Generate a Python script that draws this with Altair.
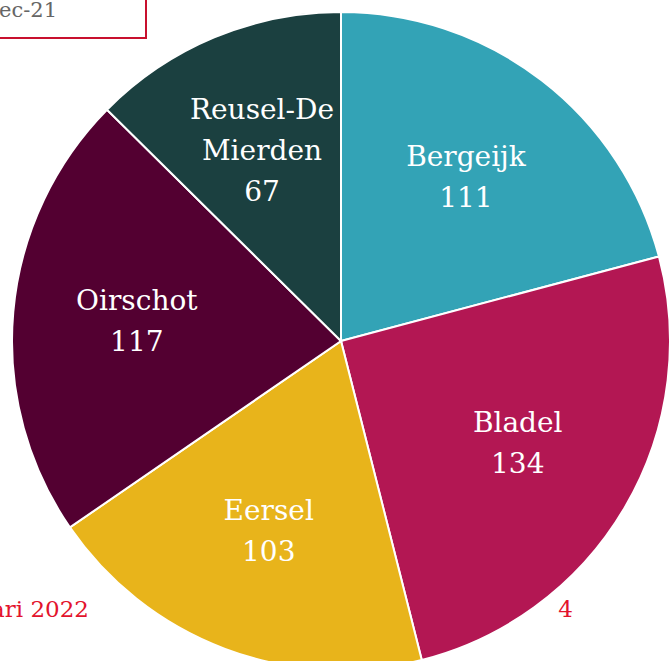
import altair as alt
import pandas as pd

names = ["Bergeijk", "Bladel", "Eersel", "Oirschot", "Reusel-De Mierden"]
label_lines = ["Bergeijk", "Bladel", "Eersel", "Oirschot", "Reusel-De\nMierden"]
values = [111, 134, 103, 117, 67]
colors = ["#33A3B6", "#B31753", "#E8B41B", "#530031", "#1B4040"]

df = pd.DataFrame({
    "gemeente": names,
    "label": [f"{l}\n{v}" for l, v in zip(label_lines, values)],
    "regels": [l.count("\n") + 2 for l in label_lines],
    "aantal": values,
    "volgorde": list(range(len(names))),
})

CX, CY, R = 341, 341, 329
LH = 41
theta_scale = alt.Scale(domain=[0, 1], range=[0, 6.283185307])

base = alt.Chart(df).transform_stack(
    stack="aantal", groupby=[], as_=["s0", "s1"], sort=[alt.SortField("volgorde")]
).transform_joinaggregate(
    totaal="sum(aantal)"
).transform_calculate(
    f0="datum.s0 / datum.totaal",
    f1="datum.s1 / datum.totaal",
    mid="(datum.s0 + datum.s1) / 2 / datum.totaal",
)

pie = base.mark_arc(outerRadius=R, stroke="white", strokeWidth=2).encode(
    theta=alt.Theta("f0:Q", scale=theta_scale),
    theta2="f1:Q",
    x=alt.value(CX), y=alt.value(CY),
    color=alt.Color("gemeente:N", scale=alt.Scale(domain=names, range=colors), legend=None),
)

def label_layer(n):
    return base.transform_filter(f"datum.regels == {n}").mark_text(
        radius=205, font="DejaVu Serif", fontSize=28, color="white",
        lineBreak="\n", lineHeight=LH, align="center", baseline="middle",
        dy=-(n - 1) * LH / 2,
    ).encode(
        theta=alt.Theta("mid:Q", scale=theta_scale),
        x=alt.value(CX), y=alt.value(CY), text="label:N",
    )

# background annotations partly hidden behind the pie
box = alt.Chart(pd.DataFrame({"a": [0]})).mark_rect(
    fill="white", stroke="#C8102E", strokeWidth=2
).encode(x=alt.value(-10), x2=alt.value(146), y=alt.value(-10), y2=alt.value(38))

box_text = alt.Chart(pd.DataFrame({"t": ["Dec-21"]})).mark_text(
    font="DejaVu Serif", fontSize=21, color="#666666", align="right", baseline="alphabetic"
).encode(x=alt.value(57), y=alt.value(17), text="t:N")

note_left = alt.Chart(pd.DataFrame({"t": ["januari 2022"]})).mark_text(
    font="DejaVu Serif", fontSize=23, color="#E3132C", align="right", baseline="alphabetic"
).encode(x=alt.value(89), y=alt.value(617), text="t:N")

note_right = alt.Chart(pd.DataFrame({"t": ["4"]})).mark_text(
    font="DejaVu Serif", fontSize=23, color="#E3132C", align="right", baseline="alphabetic"
).encode(x=alt.value(573), y=alt.value(617), text="t:N")

chart = alt.layer(
    box, box_text, note_left, note_right, pie, label_layer(2), label_layer(3)
).properties(
    width=671, height=661, padding=0, autosize="none", background="white"
).configure_view(stroke=None)

chart.save("out.html", embed_options={"renderer": "svg", "actions": False})
